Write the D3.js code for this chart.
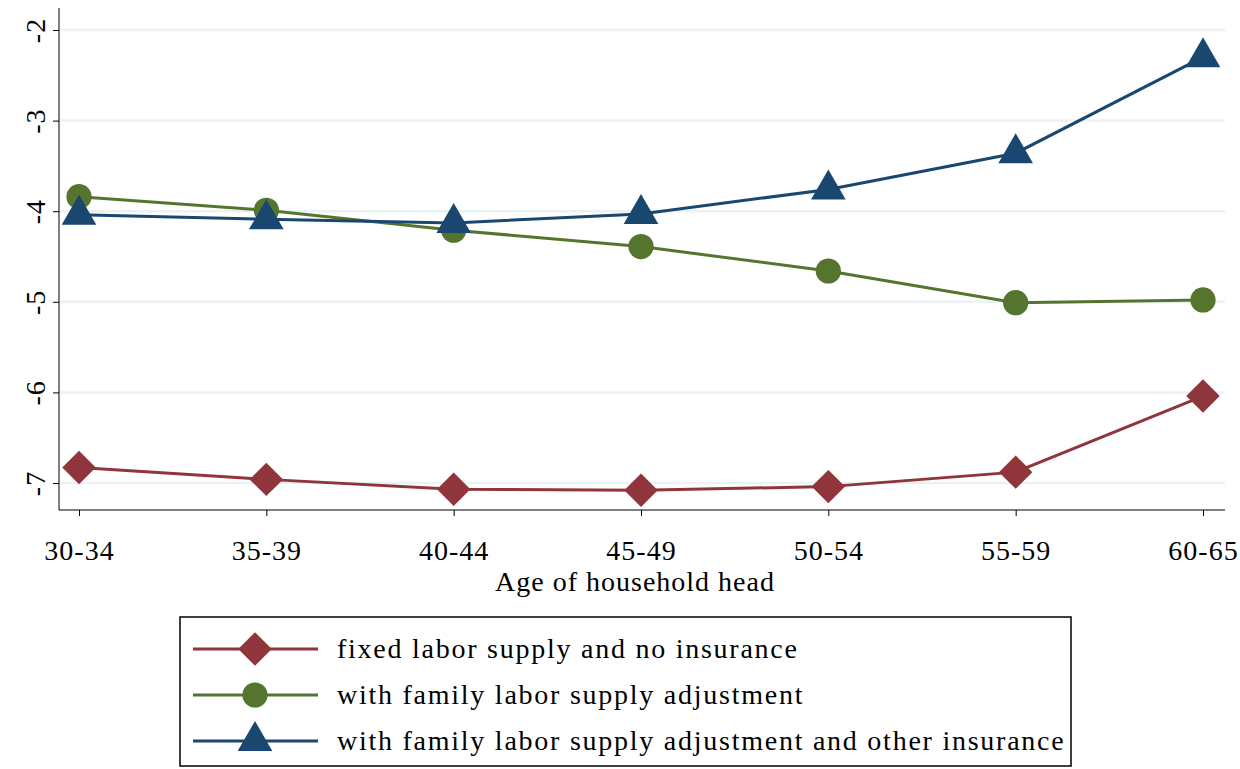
<!DOCTYPE html>
<html><head><meta charset="utf-8">
<script src="https://cdn.jsdelivr.net/npm/d3@7"></script>
<style>body{margin:0;background:#fff}text{font-family:"Liberation Serif","Times New Roman",serif;letter-spacing:1px}</style>
</head><body><svg id="c" width="1240" height="769"></svg>
<script>
const categories=["30-34","35-39","40-44","45-49","50-54","55-59","60-65"];
const fixedNoIns=[-6.83,-6.96,-7.07,-7.08,-7.04,-6.88,-6.04];
const familyAdj=[-3.84,-3.99,-4.21,-4.39,-4.66,-5.01,-4.98];
const familyAdjOther=[-4.04,-4.09,-4.13,-4.03,-3.76,-3.36,-2.30];
const yTicks=[-2,-3,-4,-5,-6,-7];
const seriesNames=["fixed labor supply and no insurance","with family labor supply adjustment","with family labor supply adjustment and other insurance"];
const colors=["#90353b","#55752f","#1a476f"];
const svg=d3.select("#c");
const x=d3.scalePoint().domain(categories).range([79,1203]);
const y=d3.scaleLinear().domain([-7,-2]).range([483,30]);
svg.selectAll(".g").data(yTicks).join("line").attr("x1",59).attr("x2",1225)
 .attr("y1",d=>y(d)).attr("y2",d=>y(d)).attr("stroke","#eaf2f3").attr("stroke-width",2.5);
const ya=svg.append("g").attr("transform","translate(59,0)").call(d3.axisLeft(y).tickValues(yTicks).tickSize(6).tickFormat(d=>String(d)));
ya.select(".domain").attr("d","M0,8V510");
ya.selectAll("text").attr("font-size",28).attr("fill","#000").attr("transform","rotate(-90)")
 .attr("x",0).attr("y",-14).attr("dy",0).attr("text-anchor","middle");
const xa=svg.append("g").attr("transform","translate(0,510)").call(d3.axisBottom(x).tickSize(6));
xa.select(".domain").attr("d","M59,0H1225");
xa.selectAll("text").attr("font-size",28).attr("fill","#000").attr("y",0).attr("dy",0).attr("transform","translate(0,50)");
svg.selectAll(".tick line").attr("stroke","#000");
svg.append("text").attr("x",635).attr("y",591).attr("text-anchor","middle").attr("font-size",28).text("Age of household head");
const all=[fixedNoIns,familyAdj,familyAdjOther];
const line=d3.line().x((d,i)=>x(categories[i])).y(d=>y(d));
const sym=[d3.symbol().type(d3.symbolSquare).size(560),d3.symbol().type(d3.symbolCircle).size(500),d3.symbol().type(d3.symbolTriangle).size(520)];
all.forEach((s,k)=>{
 svg.append("path").datum(s).attr("d",line).attr("fill","none").attr("stroke",colors[k]).attr("stroke-width",3);
 svg.selectAll(".m"+k).data(s).join("path").attr("d",sym[k])
  .attr("transform",(d,i)=>`translate(${x(categories[i])},${y(d)}) ${k==0?"rotate(45)":""}`).attr("fill",colors[k]);
});
svg.append("rect").attr("x",180).attr("y",617).attr("width",891).attr("height",149).attr("fill","none").attr("stroke","#000").attr("stroke-width",1.5);
seriesNames.forEach((n,k)=>{
 const ly=649+k*46;
 svg.append("line").attr("x1",193).attr("x2",318).attr("y1",ly).attr("y2",ly).attr("stroke",colors[k]).attr("stroke-width",3);
 svg.append("path").attr("d",sym[k]).attr("transform",`translate(255,${ly}) ${k==0?"rotate(45)":""}`).attr("fill",colors[k]);
 svg.append("text").attr("x",337).attr("y",ly+9).attr("font-size",28).style("letter-spacing","1.75px").text(n);
});
</script></body></html>
